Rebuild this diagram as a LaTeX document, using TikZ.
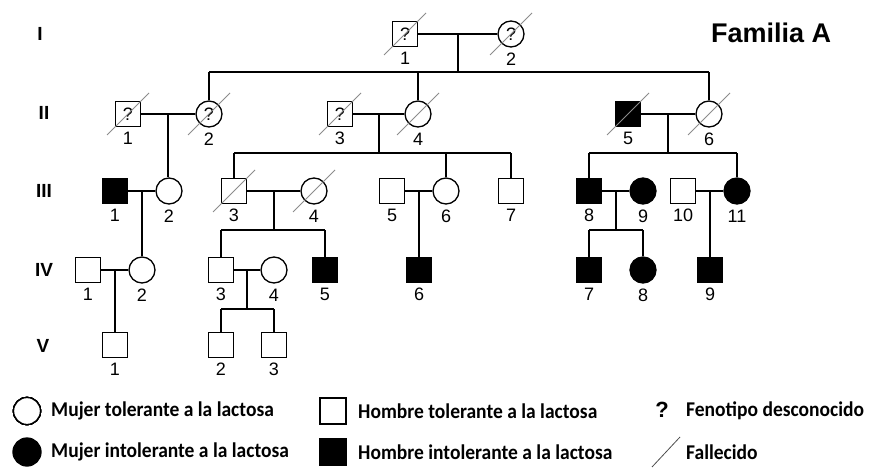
\documentclass[tikz,border=0pt]{standalone}
\usepackage{fontspec}
\setmainfont{Liberation Sans}
\newfontfamily\legfont[FakeStretch=0.93]{Carlito}
\usetikzlibrary{calc}
\definecolor{slashgray}{RGB}{140,140,140}
\tikzset{
  pm/.style={draw, line width=1.3pt, rectangle, minimum size=25pt, inner sep=0pt, fill=white, font=\fontsize{18}{18}\selectfont},
  pf/.style={draw, line width=1.3pt, circle, minimum size=26pt, inner sep=0pt, fill=white, font=\fontsize{18}{18}\selectfont},
  aff/.style={fill=black},
  conn/.style={line width=1.8pt},
  lbl/.style={font=\fontsize{18}{18}\selectfont, inner sep=0pt},
  gen/.style={font=\bfseries\fontsize{19}{19}\selectfont, inner sep=0pt},
  slash/.style={draw=slashgray, line width=1pt},
  leg/.style={font=\legfont\bfseries\fontsize{21}{21}\selectfont, inner sep=0pt, anchor=west},
}
\newcommand\deadmark[1]{\draw[slash] ($(#1)+(-21,21)$) -- ($(#1)+(21,-21)$);}
\begin{document}
\begin{tikzpicture}[x=1pt,y=-1pt,label distance=5pt]
\useasboundingbox (0,0) rectangle (880,468);
% generation labels
\node[gen] (gI) at (40,34) {I};
\node[gen] (gII) at (44,113) {II};
\node[gen] (gIII) at (44,191) {III};
\node[gen] (gIV) at (44,270) {IV};
\node[gen] (gV) at (43,346) {V};
\node[font=\bfseries\fontsize{27}{27}\selectfont, inner sep=0pt, anchor=west] (title) at (711,33) {Familia A};
% Generation I
\node[pm, label={[lbl]below:1}] (I1) at (405,34) {?};
\node[pf, label={[lbl]below:2}] (I2) at (511,34) {?};
% Generation II
\node[pm, label={[lbl]below:1}] (II1) at (128,114) {?};
\node[pf, label={[lbl]below:2}] (II2) at (209,114) {?};
\node[pm, label={[lbl]below:3}] (II3) at (340,114) {?};
\node[pf, label={[lbl]below:4}] (II4) at (418,114) {};
\node[pm, aff, label={[lbl]below:5}] (II5) at (628,114) {};
\node[pf, label={[lbl]below:6}] (II6) at (709,114) {};
% Generation III
\node[pm, aff, label={[lbl]below:1}] (III1) at (115,191) {};
\node[pf, label={[lbl]below:2}] (III2) at (169,191) {};
\node[pm, label={[lbl]below:3}] (III3) at (234,191) {};
\node[pf, label={[lbl]below:4}] (III4) at (314,191) {};
\node[pm, label={[lbl]below:5}] (III5) at (392,191) {};
\node[pf, label={[lbl]below:6}] (III6) at (446,191) {};
\node[pm, label={[lbl]below:7}] (III7) at (511,191) {};
\node[pm, aff, label={[lbl]below:8}] (III8) at (589,191) {};
\node[pf, aff, label={[lbl]below:9}] (III9) at (643,191) {};
\node[pm, label={[lbl]below:10}] (III10) at (683,191) {};
\node[pf, aff, label={[lbl]below:11}] (III11) at (737,191) {};
% Generation IV
\node[pm, label={[lbl]below:1}] (IV1) at (88,270) {};
\node[pf, label={[lbl]below:2}] (IV2) at (142,270) {};
\node[pm, label={[lbl]below:3}] (IV3) at (221,270) {};
\node[pf, label={[lbl]below:4}] (IV4) at (274,270) {};
\node[pm, aff, label={[lbl]below:5}] (IV5) at (325,270) {};
\node[pm, aff, label={[lbl]below:6}] (IV6) at (419,270) {};
\node[pm, aff, label={[lbl]below:7}] (IV7) at (589,270) {};
\node[pf, aff, label={[lbl]below:8}] (IV8) at (643,270) {};
\node[pm, aff, label={[lbl]below:9}] (IV9) at (710,270) {};
% Generation V
\node[pm, label={[lbl]below:1}] (V1) at (115,345) {};
\node[pm, label={[lbl]below:2}] (V2) at (221,345) {};
\node[pm, label={[lbl]below:3}] (V3) at (274,345) {};
% ---- connectors
% I-1 x I-2
\draw[conn] (I1) -- (I2);
\coordinate (mI) at ($(I1.east)!0.5!(I2.west)$);
\draw[conn] (mI) -- ++(0,38) coordinate (sI);
\draw[conn] (II2.north |- sI) -- (II6.north |- sI);
\foreach \c in {II2,II4,II6} \draw[conn] (\c.north |- sI) -- (\c.north);
% II-1 x II-2
\draw[conn] (II1) -- (II2);
\coordinate (mII12) at ($(II1.east)!0.5!(II2.west)$);
\draw[conn] (mII12) -- (mII12 |- III2.north);
% II-3 x II-4
\draw[conn] (II3) -- (II4);
\coordinate (mII34) at ($(II3.east)!0.5!(II4.west)$);
\draw[conn] (mII34) -- ++(0,39) coordinate (sII34);
\draw[conn] (III3.north |- sII34) -- (III7.north |- sII34);
\foreach \c in {III3,III6,III7} \draw[conn] (\c.north |- sII34) -- (\c.north);
% II-5 x II-6
\draw[conn] (II5) -- (II6);
\coordinate (mII56) at ($(II5.east)!0.5!(II6.west)$);
\draw[conn] (mII56) -- ++(0,39) coordinate (sII56);
\draw[conn] (III8.north |- sII56) -- (III11.north |- sII56);
\foreach \c in {III8,III11} \draw[conn] (\c.north |- sII56) -- (\c.north);
% III-1 x III-2
\draw[conn] (III1) -- (III2);
\coordinate (mIII12) at ($(III1.east)!0.5!(III2.west)$);
\draw[conn] (mIII12) -- (mIII12 |- IV2.north);
% III-3 x III-4
\draw[conn] (III3) -- (III4);
\coordinate (mIII34) at ($(III3.east)!0.5!(III4.west)$);
\draw[conn] (mIII34) -- ++(0,39) coordinate (sIII34);
\draw[conn] (IV3.north |- sIII34) -- (IV5.north |- sIII34);
\foreach \c in {IV3,IV5} \draw[conn] (\c.north |- sIII34) -- (\c.north);
% III-5 x III-6
\draw[conn] (III5) -- (III6);
\coordinate (mIII56) at ($(III5.east)!0.5!(III6.west)$);
\draw[conn] (mIII56) -- (mIII56 |- IV6.north);
% III-8 x III-9
\draw[conn] (III8) -- (III9);
\coordinate (mIII89) at ($(III8.east)!0.5!(III9.west)$);
\draw[conn] (mIII89) -- ++(0,39) coordinate (sIII89);
\draw[conn] (IV7.north |- sIII89) -- (IV8.north |- sIII89);
\foreach \c in {IV7,IV8} \draw[conn] (\c.north |- sIII89) -- (\c.north);
% III-10 x III-11
\draw[conn] (III10) -- (III11);
\coordinate (mIII1011) at ($(III10.east)!0.5!(III11.west)$);
\draw[conn] (mIII1011) -- (mIII1011 |- IV9.north);
% IV-1 x IV-2
\draw[conn] (IV1) -- (IV2);
\coordinate (mIV12) at ($(IV1.east)!0.5!(IV2.west)$);
\draw[conn] (mIV12) -- (mIV12 |- V1.north);
% IV-3 x IV-4
\draw[conn] (IV3) -- (IV4);
\coordinate (mIV34) at ($(IV3.east)!0.5!(IV4.west)$);
\draw[conn] (mIV34) -- ++(0,39) coordinate (sIV34);
\draw[conn] (V2.north |- sIV34) -- (V3.north |- sIV34);
\foreach \c in {V2,V3} \draw[conn] (\c.north |- sIV34) -- (\c.north);
% deceased marks
\foreach \c in {I1,I2,II1,II2,II3,II4,II5,II6,III3,III4} \deadmark{\c}
% ---- legend
\node[pf, minimum size=27pt] (lgF) at (27,411) {};
\node[leg] (lgFt) at (51,411) {Mujer tolerante a la lactosa};
\node[pm, minimum size=26pt] (lgM) at (333,411) {};
\node[leg] (lgMt) at (358,411) {Hombre tolerante a la lactosa};
\node[font=\bfseries\fontsize{22}{22}\selectfont, inner sep=0pt] (lgQ) at (662,410) {?};
\node[leg] (lgQt) at (686,411) {Fenotipo desconocido};
\node[pf, aff, minimum size=28pt] (lgFA) at (27,452) {};
\node[leg] (lgFAt) at (51,452) {Mujer intolerante a la lactosa};
\node[pm, aff, minimum size=26pt] (lgMA) at (333,452) {};
\node[leg] (lgMAt) at (358,452) {Hombre intolerante a la lactosa};
\coordinate (lgS1) at (652,467);
\coordinate (lgS2) at (680,437);
\draw[draw=black!70, line width=0.8pt] (lgS1) -- (lgS2);
\node[leg] (lgSt) at (686,452) {Fallecido};
\end{tikzpicture}
\end{document}
